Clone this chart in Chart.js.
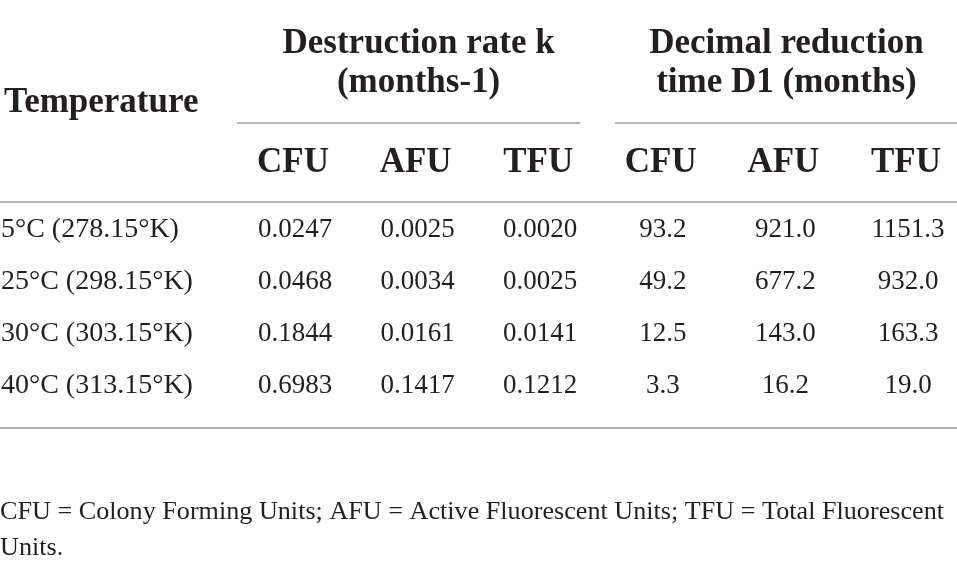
<!DOCTYPE html>
<html>
<head>
<meta charset="utf-8">
<script src="https://cdn.jsdelivr.net/npm/chart.js@4.4.1/dist/chart.umd.min.js"></script>
<style>
  html, body { margin: 0; padding: 0; background: #fff; }
  canvas { display: block; }
</style>
</head>
<body>
<canvas id="myChart" width="957" height="569"></canvas>
<script>
"use strict";
// Table content
const rowHeader = "Temperature";
const rowLabels = ["5°C (278.15°K)", "25°C (298.15°K)", "30°C (303.15°K)", "40°C (313.15°K)"];
const columnKeys = ["kCFU", "kAFU", "kTFU", "dCFU", "dAFU", "dTFU"];
const columnLabels = ["CFU", "AFU", "TFU", "CFU", "AFU", "TFU"];
const groupLabels = [
    ["Destruction rate k", "(months-1)"],
    ["Decimal reduction", "time D1 (months)"],
];
const rateCFU = [0.0247, 0.0468, 0.1844, 0.6983];
const rateAFU = [0.0025, 0.0034, 0.0161, 0.1417];
const rateTFU = [0.0020, 0.0025, 0.0141, 0.1212];
const timeCFU = [93.2, 49.2, 12.5, 3.3];
const timeAFU = [921.0, 677.2, 143.0, 16.2];
const timeTFU = [1151.3, 932.0, 163.3, 19.0];
const footnote = ["CFU = Colony Forming Units; AFU = Active Fluorescent Units; TFU = Total Fluorescent", "Units."];

const series = [rateCFU, rateAFU, rateTFU, timeCFU, timeAFU, timeTFU];
const decimals = [4, 4, 4, 1, 1, 1];

const ink = "#231f20";
const rule = "#9d9d9d";
const serif = "'Liberation Serif', 'Times New Roman', serif";

// Draws the table text and rules from the scale positions
const tablePlugin = {
    id: "tableText",
    afterDatasetsDraw(chart) {
        const ctx = chart.ctx;
        const x = chart.scales.x;
        const y = chart.scales.y;
        ctx.save();
        ctx.fillStyle = ink;
        ctx.textBaseline = "alphabetic";

        // cell values
        ctx.font = "27px " + serif;
        ctx.textAlign = "center";
        chart.data.datasets.forEach((ds, i) => {
            const meta = chart.getDatasetMeta(i);
            meta.data.forEach((pt, j) => {
                ctx.fillText(ds.data[j].v.toFixed(ds.decimals), pt.x, pt.y + 10);
            });
        });

        // row labels
        ctx.font = "28px " + serif;
        ctx.textAlign = "left";
        rowLabels.forEach((r, j) => {
            ctx.fillText(r, 1, y.getPixelForValue(j) + 10);
        });

        // headers
        ctx.font = "bold 35px " + serif;
        ctx.fillText(rowHeader, 4, 112);
        ctx.textAlign = "center";
        columnLabels.forEach((c, i) => {
            ctx.fillText(c, x.getPixelForValue(i) - 2, 172);
        });
        groupLabels.forEach((g, k) => {
            const mid = (x.getPixelForValue(k * 3) + x.getPixelForValue(k * 3 + 2)) / 2;
            ctx.fillText(g[0], mid + 1, 53);
            ctx.fillText(g[1], mid + 1, 92);
        });

        // rules
        ctx.strokeStyle = rule;
        ctx.lineWidth = 1.6;
        const hline = (x0, x1, yy) => {
            ctx.beginPath();
            ctx.moveTo(x0, yy);
            ctx.lineTo(x1, yy);
            ctx.stroke();
        };
        hline(x.getPixelForValue(0) - 58, x.getPixelForValue(2) + 40, 123);
        hline(x.getPixelForValue(3) - 48, chart.width, 123);
        hline(0, chart.width, 202);
        hline(0, chart.width, 428);

        // footnote, condensed to the reference width
        ctx.fillStyle = ink;
        ctx.textAlign = "left";
        ctx.font = "26px " + serif;
        const w = ctx.measureText(footnote[0]).width;
        const sx = 944 / w;
        ctx.save();
        ctx.scale(sx, 1);
        ctx.fillText(footnote[0], 0, 519);
        ctx.fillText(footnote[1], 0, 555);
        ctx.restore();

        ctx.restore();
    },
};

const data = {
    datasets: columnKeys.map((key, i) => ({
        label: columnLabels[i],
        data: rowLabels.map((r, j) => ({ x: key, y: r, v: series[i][j] })),
        decimals: decimals[i],
        pointRadius: 0,
        showLine: false,
    })),
};

const config = {
    type: "scatter",
    data: data,
    options: {
        responsive: false,
        animation: false,
        events: [],
        layout: {
            padding: { left: 295, right: 49, top: 227, bottom: 186 },
        },
        scales: {
            x: { type: "category", labels: columnKeys, offset: false, display: false },
            y: { type: "category", labels: rowLabels, offset: false, display: false },
        },
        plugins: {
            legend: { display: false },
            tooltip: { enabled: false },
        },
    },
    plugins: [tablePlugin],
};

const myChart = new Chart(document.getElementById("myChart"), config);
</script>
</body>
</html>
